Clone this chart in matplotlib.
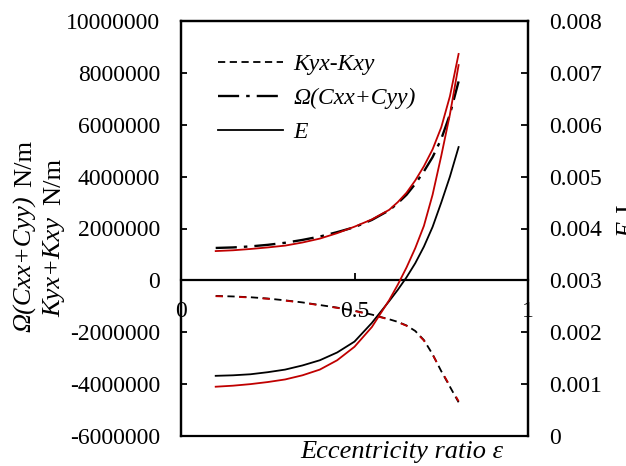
import matplotlib
matplotlib.use("Agg")
import matplotlib.pyplot as plt
from matplotlib.ticker import FixedLocator, FuncFormatter
from matplotlib.lines import Line2D

plt.rcParams['font.family'] = ['Liberation Serif', 'DejaVu Serif']
plt.rcParams['axes.unicode_minus'] = False

# ---- data ----
eps = [0.10, 0.15, 0.20, 0.25, 0.30, 0.35, 0.40, 0.45, 0.50, 0.55,
       0.60, 0.625, 0.65, 0.675, 0.70, 0.725, 0.75, 0.775, 0.80]

k_cross_black = [-0.60e6, -0.62e6, -0.65e6, -0.70e6, -0.77e6, -0.85e6, -0.95e6, -1.05e6,
                 -1.17e6, -1.32e6, -1.50e6, -1.60e6, -1.74e6, -1.95e6, -2.30e6,
                 -2.85e6, -3.50e6, -4.10e6, -4.70e6]
k_cross_red = [-0.61e6, -0.63e6, -0.66e6, -0.71e6, -0.78e6, -0.86e6, -0.96e6, -1.06e6,
               -1.18e6, -1.33e6, -1.51e6, -1.61e6, -1.75e6, -1.97e6, -2.32e6,
               -2.86e6, -3.48e6, -4.07e6, -4.66e6]

omega_c_black = [1.25e6, 1.27e6, 1.31e6, 1.37e6, 1.45e6, 1.56e6, 1.69e6, 1.86e6,
                 2.05e6, 2.33e6, 2.70e6, 2.98e6, 3.30e6, 3.72e6, 4.20e6,
                 4.75e6, 5.45e6, 6.40e6, 7.67e6]
omega_c_red = [1.13e6, 1.16e6, 1.21e6, 1.27e6, 1.34e6, 1.46e6, 1.61e6, 1.82e6,
               2.07e6, 2.35e6, 2.72e6, 3.02e6, 3.38e6, 3.85e6, 4.40e6,
               5.05e6, 5.90e6, 7.10e6, 8.73e6]

energy_black = [1.16e-3, 1.17e-3, 1.19e-3, 1.23e-3, 1.28e-3, 1.36e-3, 1.46e-3, 1.61e-3,
                1.82e-3, 2.18e-3, 2.60e-3, 2.82e-3, 3.06e-3, 3.33e-3, 3.65e-3,
                4.03e-3, 4.50e-3, 5.00e-3, 5.57e-3]
energy_red = [0.95e-3, 0.97e-3, 1.00e-3, 1.04e-3, 1.09e-3, 1.17e-3, 1.28e-3, 1.46e-3,
              1.72e-3, 2.10e-3, 2.62e-3, 2.92e-3, 3.25e-3, 3.62e-3, 4.05e-3,
              4.65e-3, 5.40e-3, 6.20e-3, 7.15e-3]

left_ticks = [-6000000, -4000000, -2000000, 0, 2000000, 4000000, 6000000, 8000000, 10000000]
right_ticks = [0, 0.001, 0.002, 0.003, 0.004, 0.005, 0.006, 0.007, 0.008]
x_ticks = [0, 0.5, 1]
legend_labels = ['Kyx-Kxy', 'Ω(Cxx+Cyy)', 'E']

RED = '#C00000'
FS = 17      # tick labels / legend
LFS = 19     # axis titles

fig = plt.figure(figsize=(6.26, 4.66), dpi=100)
ax = fig.add_axes([181/626, 1-436/466, (528-181)/626, (436-21)/466])
ax2 = ax.twinx()

lw = 1.3
dash = (4, 2.5)
dashdot = (9, 3, 1.5, 3)

ax.plot(eps, k_cross_black, color='black', lw=lw, dashes=dash)
ax.plot(eps, k_cross_red, color=RED, lw=lw, dashes=(4, 9), dash_capstyle='butt')
ax.plot(eps, omega_c_black, color='black', lw=lw*1.3, dashes=dashdot)
ax.plot(eps, omega_c_red, color=RED, lw=lw)
ax2.plot(eps, energy_black, color='black', lw=lw)
ax2.plot(eps, energy_red, color=RED, lw=lw)

ax.set_xlim(0, 1)
ax.set_ylim(-6e6, 1e7)
ax2.set_ylim(0, 0.008)

ax.xaxis.set_major_locator(FixedLocator(x_ticks))
ax.xaxis.set_major_formatter(FuncFormatter(lambda v, p: '%g' % v))
ax.yaxis.set_major_locator(FixedLocator(left_ticks))
ax.yaxis.set_major_formatter(FuncFormatter(lambda v, p: '%d' % round(v)))
ax2.yaxis.set_major_locator(FixedLocator(right_ticks))
ax2.yaxis.set_major_formatter(FuncFormatter(lambda v, p: '%g' % v))

ax.spines['bottom'].set_position(('data', 0))
for a in (ax, ax2):
    for s in a.spines.values():
        s.set_linewidth(1.6)
ax.tick_params(axis='x', direction='in', length=5, width=1.3, labelsize=FS, pad=15)
ax.tick_params(axis='y', direction='in', length=4, width=1.3, labelsize=FS, pad=15)
ax2.tick_params(axis='y', direction='in', length=5, width=1.3, labelsize=FS, pad=15)

# axis labels (rotated; italic symbol part + upright unit)
fig.text(25/626, 1-332/466, 'Ω(Cxx+Cyy)', rotation=90, style='italic',
         ha='center', va='bottom', fontsize=LFS)
fig.text(25/626, 1-140/466, 'N/m', rotation=90,
         ha='center', va='top', fontsize=LFS)
fig.text(54/626, 1-317/466, 'Kyx+Kxy', rotation=90, style='italic',
         ha='center', va='bottom', fontsize=LFS)
fig.text(54/626, 1-158/466, 'N/m', rotation=90,
         ha='center', va='top', fontsize=LFS)
fig.text(628/626, 1-238/466, 'E', rotation=90, style='italic',
         ha='center', va='bottom', fontsize=LFS)
fig.text(628/626, 1-205/466, 'J', rotation=90,
         ha='center', va='top', fontsize=LFS)
fig.text(402/626, 1-452/466, 'Eccentricity ratio ε', style='italic',
         ha='center', va='center', fontsize=LFS)

handles = [Line2D([], [], color='black', lw=lw, dashes=dash),
           Line2D([], [], color='black', lw=lw*1.3, dashes=dashdot),
           Line2D([], [], color='black', lw=lw)]
ax.legend(handles, legend_labels, loc='upper left', bbox_to_anchor=(0.08, 0.945),
          frameon=False, prop={'family': 'Liberation Serif', 'style': 'italic', 'size': FS},
          handlelength=2.75, handletextpad=0.42, labelspacing=0.53, borderaxespad=0)

fig.savefig('out.png', dpi=100)
